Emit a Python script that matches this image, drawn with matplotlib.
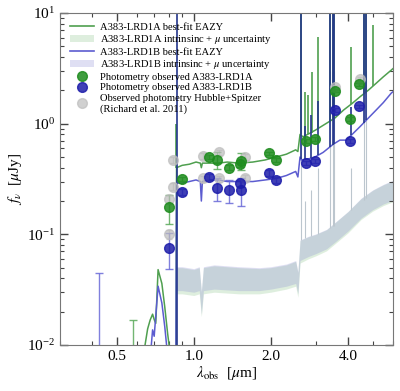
import matplotlib
matplotlib.use("Agg")
import matplotlib.pyplot as plt
from matplotlib.ticker import FixedLocator, NullFormatter
from matplotlib.patches import Patch
from matplotlib.lines import Line2D

plt.rcParams['font.family'] = ['Liberation Serif', 'DejaVu Serif']
plt.rcParams['mathtext.fontset'] = 'stix'

# best-fit continuum, LRD1A (green) and LRD1B (blue), wavelength in micron, flux in uJy
lam_a = [0.60, 0.64, 0.66, 0.675, 0.69, 0.70, 0.71, 0.725, 0.75, 0.77, 0.79, 0.81, 0.85,
         0.856, 0.90, 0.96, 1.02, 1.06, 1.07, 1.08, 1.15, 1.25, 1.35, 1.50, 1.70, 1.90,
         2.10, 2.30, 2.50, 2.55, 2.60, 2.67, 2.84, 3.00, 3.28, 3.55, 3.85, 4.15, 4.46,
         4.80, 5.16, 5.50, 5.91, 6.10]
flux_a = [0.004, 0.009, 0.014, 0.0168, 0.019, 0.017, 0.0157, 0.048, 0.036, 0.022, 0.0127,
          0.008, 0.005, 0.40, 0.42, 0.43, 0.45, 0.44, 0.40, 0.44, 0.44, 0.44, 0.45, 0.44,
          0.45, 0.47, 0.50, 0.53, 0.58, 0.56, 0.80, 0.76, 0.82, 0.88, 1.00, 1.12, 1.33,
          1.52, 1.75, 2.00, 2.32, 2.65, 3.05, 3.25]

lam_b = [0.66, 0.69, 0.70, 0.725, 0.75, 0.77, 0.79, 0.82, 0.85, 0.856, 0.90, 0.96, 1.02,
         1.06, 1.07, 1.08, 1.15, 1.25, 1.35, 1.50, 1.70, 1.90, 2.10, 2.30, 2.50, 2.55,
         2.60, 2.63, 2.93, 3.20, 3.50, 3.72, 3.94, 4.20, 4.46, 4.80, 5.16, 5.50, 5.91, 6.10]
flux_b = [0.004, 0.0137, 0.012, 0.034, 0.024, 0.0146, 0.008, 0.005, 0.004, 0.29, 0.29,
          0.30, 0.31, 0.30, 0.20, 0.30, 0.31, 0.31, 0.30, 0.30, 0.30, 0.31, 0.32, 0.34,
          0.37, 0.33, 0.50, 0.47, 0.49, 0.55, 0.65, 0.71, 0.71, 0.82, 0.94, 1.12, 1.33,
          1.55, 1.89, 2.00]

# emission lines of the best-fit models: wavelength, continuum under the line, peak flux
lines_a_lam = [0.8545, 2.620, 2.720, 2.790, 2.883, 3.050, 3.415, 3.485, 3.518, 4.130, 4.610, 4.720, 5.015]
lines_a_base = [0.40, 0.80, 0.77, 0.80, 0.83, 0.90, 1.06, 1.09, 1.10, 1.50, 1.85, 1.93, 2.18]
lines_a_peak = [1.0, 30, 1.93, 1.8, 2.95, 6.1, 30, 30, 30, 4.9, 30, 30, 7.8]
lines_b_lam = [0.856, 2.618, 2.718, 2.880, 3.048, 3.413, 3.483, 3.516, 4.128, 4.608, 4.718]
lines_b_base = [0.004, 0.48, 0.48, 0.49, 0.52, 0.62, 0.64, 0.65, 0.79, 1.02, 1.08]
lines_b_peak = [30, 30, 0.95, 1.2, 1.6, 30, 30, 30, 1.4, 30, 30]

# intrinsic (de-lensed) model with magnification uncertainty
lam_band = [0.855, 0.90, 1.00, 1.05, 1.07, 1.09, 1.20, 1.50, 1.80, 2.00, 2.30, 2.50, 2.55,
            2.60, 2.80, 3.00, 3.30, 3.60, 4.00, 4.50, 5.00, 5.50, 6.10]
band_a_hi = [0.050, 0.050, 0.048, 0.050, 0.030, 0.050, 0.052, 0.050, 0.049, 0.050, 0.053,
             0.057, 0.045, 0.088, 0.095, 0.100, 0.110, 0.130, 0.160, 0.210, 0.250, 0.280, 0.310]
band_a_lo = [0.029, 0.029, 0.028, 0.029, 0.018, 0.029, 0.030, 0.029, 0.029, 0.030, 0.032,
             0.034, 0.027, 0.055, 0.060, 0.064, 0.071, 0.084, 0.103, 0.136, 0.162, 0.182, 0.200]
band_b_hi = [0.051, 0.051, 0.049, 0.051, 0.031, 0.051, 0.053, 0.051, 0.050, 0.051, 0.054,
             0.058, 0.046, 0.089, 0.096, 0.101, 0.111, 0.131, 0.161, 0.212, 0.252, 0.283, 0.313]
band_b_lo = [0.031, 0.031, 0.030, 0.031, 0.019, 0.031, 0.032, 0.031, 0.031, 0.032, 0.034,
             0.036, 0.029, 0.058, 0.063, 0.067, 0.074, 0.087, 0.107, 0.140, 0.167, 0.188, 0.206]
band_lines_lam = [2.62, 2.72, 2.88, 3.05, 3.415, 3.485, 3.518, 4.13, 4.61, 4.72]
band_lines_base = [0.088, 0.092, 0.096, 0.100, 0.115, 0.118, 0.120, 0.165, 0.205, 0.215]
band_lines_peak = [2.0, 0.2, 0.25, 0.4, 3.0, 3.0, 3.0, 0.4, 3.0, 3.0]

# photometry
phot_a_lam = [0.58, 0.80, 0.90, 1.15, 1.23, 1.37, 1.51, 1.53, 1.96, 2.09, 2.75, 2.97, 3.56, 4.07, 4.40]
phot_a_flux = [0.004, 0.175, 0.316, 0.50, 0.47, 0.40, 0.43, 0.46, 0.54, 0.47, 0.70, 0.73, 1.99, 1.10, 2.28]
phot_a_err = [0.0128, 0.05, 0.015, 0.02, 0.08, 0.02, 0.02, 0.08, 0.02, 0.02, 0.03, 0.03, 0.06, 0.04, 0.07]

phot_b_lam = [0.427, 0.80, 0.90, 1.15, 1.23, 1.37, 1.51, 1.53, 1.96, 2.09, 2.75, 2.97, 3.56, 4.07, 4.40]
phot_b_flux = [0.004, 0.0757, 0.243, 0.33, 0.26, 0.25, 0.29, 0.25, 0.36, 0.31, 0.44, 0.46, 1.33, 0.70, 1.43]
phot_b_err = [0.0405, 0.027, 0.015, 0.02, 0.06, 0.06, 0.02, 0.07, 0.02, 0.02, 0.02, 0.02, 0.05, 0.03, 0.05]

phot_hst_lam = [0.80, 0.80, 0.83, 0.83, 1.09, 1.09, 1.25, 1.25, 1.59, 1.59, 3.56, 4.47]
phot_hst_flux = [0.207, 0.10, 0.47, 0.27, 0.51, 0.32, 0.55, 0.32, 0.50, 0.325, 2.13, 2.52]
phot_hst_err = [0.02, 0.01, 0.03, 0.02, 0.03, 0.02, 0.03, 0.02, 0.03, 0.02, 0.1, 0.1]

green = '#4f9f4f'
blue = '#5c5cd0'
navy = '#24368c'

fig = plt.figure(figsize=(4.0, 3.91), dpi=100)
ax = fig.add_axes([0.15, 0.1176, 0.8325, 0.8492])

ax.fill_between(lam_band, band_a_lo, band_a_hi, color='#7fbf7f', alpha=0.25, lw=0)
ax.fill_between(lam_band, band_b_lo, band_b_hi, color='#8080d0', alpha=0.25, lw=0)
ax.vlines(band_lines_lam, band_lines_base, band_lines_peak, color='#bcc6ce', lw=0.8)

ax.plot(lam_a, flux_a, color=green, lw=1.1)
ax.vlines(lines_a_lam, lines_a_base, lines_a_peak, color=green, lw=1.2)
ax.plot(lam_b, flux_b, color=blue, lw=1.1)
ax.vlines(lines_b_lam, lines_b_base, lines_b_peak, color=navy, lw=1.2)

ax.errorbar(phot_hst_lam, phot_hst_flux, yerr=phot_hst_err, fmt='o', ms=7,
            color='#bdbdbd', alpha=0.7, capsize=2.5, lw=1)
ax.errorbar(phot_a_lam, phot_a_flux, yerr=phot_a_err, fmt='o', ms=7, mfc='#1e8c1e',
            mec='#1e8c1e', ecolor='#5aaa5a', alpha=0.85, capsize=3, lw=1)
ax.errorbar(phot_b_lam, phot_b_flux, yerr=phot_b_err, fmt='o', ms=7, mfc='#1e1eaa',
            mec='#1e1eaa', ecolor='#6a6ad8', alpha=0.85, capsize=3, lw=1)

ax.set_xscale('log')
ax.set_yscale('log')
ax.set_xlim(0.3, 6.0)
ax.set_ylim(1e-2, 1e1)
ax.xaxis.set_major_locator(FixedLocator([0.5, 1.0, 2.0, 4.0]))
ax.xaxis.set_minor_locator(FixedLocator([0.3, 0.4, 0.6, 0.7, 0.8, 0.9, 3.0, 5.0, 6.0]))
ax.set_xticklabels(['0.5', '1.0', '2.0', '4.0'])
ax.xaxis.set_minor_formatter(NullFormatter())
ax.tick_params(which='both', direction='in', top=True, right=True, labelsize=11, colors='#444444',
               labelcolor='black')
ax.tick_params(which='major', length=6, width=1)
ax.tick_params(which='minor', length=3, width=0.8)
for s in ax.spines.values():
    s.set_color('#777777')

ax.set_xlabel(r'$\lambda_{\rm obs}$  [$\mu$m]', fontsize=11, labelpad=1)
ax.set_ylabel(r'$f_\nu$  [$\mu$Jy]', fontsize=11, labelpad=2)

handles = [
    Line2D([], [], color=green, lw=1.2),
    Patch(color='#7fbf7f', alpha=0.25, lw=0),
    Line2D([], [], color=blue, lw=1.2),
    Patch(color='#8080d0', alpha=0.25, lw=0),
    Line2D([], [], marker='o', ls='none', ms=7, color='#1e8c1e', alpha=0.85),
    Line2D([], [], marker='o', ls='none', ms=7, color='#1e1eaa', alpha=0.85),
    Line2D([], [], marker='o', ls='none', ms=7, color='#bdbdbd', alpha=0.7),
]
labels = [
    'A383-LRD1A best-fit EAZY',
    r'A383-LRD1A intrinsinc + $\mu$ uncertainty',
    'A383-LRD1B best-fit EAZY',
    r'A383-LRD1B intrinsinc + $\mu$ uncertainty',
    'Photometry observed A383-LRD1A',
    'Photometry observed A383-LRD1B',
    'Observed photometry Hubble+Spitzer\n(Richard et al. 2011)',
]
ax.legend(handles, labels, loc='upper left', frameon=False, fontsize=7.6,
          labelspacing=0.12, handlelength=2.3, handletextpad=0.6, borderaxespad=0.5)

fig.savefig('out.png', dpi=100)
